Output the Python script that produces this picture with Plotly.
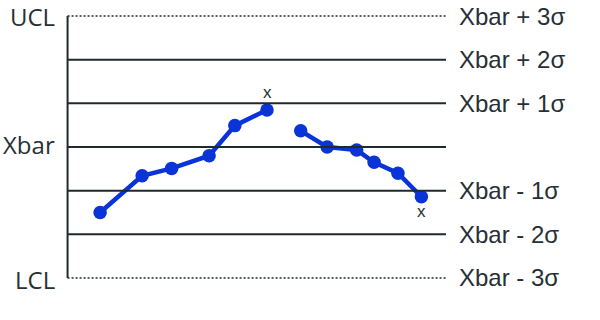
import plotly.graph_objects as go

# Sample positions (arbitrary time units) and values in sigma units
sample_x = [8.6, 19.7, 27.5, 37.4, 44.2, 52.7, None, 61.6, 68.6, 76.4, 81.0, 87.3, 93.5]
sample_y = [-1.50, -0.66, -0.49, -0.20, 0.49, 0.85, None, 0.37, 0.0, -0.07, -0.35, -0.60, -1.14]
out_flags = ["", "", "", "", "", "above", "", "", "", "", "", "", "below"]

# Control-limit levels (sigma units)
levels = [3, 2, 1, 0, -1, -2, -3]
left_labels = {3: "UCL", 0: "Xbar", -3: "LCL"}
right_labels = {3: "Xbar + 3σ", 2: "Xbar + 2σ", 1: "Xbar + 1σ",
                -1: "Xbar - 1σ", -2: "Xbar - 2σ", -3: "Xbar - 3σ"}

LINE_C = "#1f2a2c"
TEXT_C = "#263035"
BLUE = "#0a33d8"

fig = go.Figure()

shapes = []
for lv in levels:
    dotted = abs(lv) == 3
    shapes.append(dict(type="line", xref="x", yref="y", x0=0, x1=100, y0=lv, y1=lv,
                       line=dict(color=LINE_C, width=1.5 if dotted else 2,
                                 dash="2px,2px" if dotted else "solid")))
shapes.append(dict(type="line", xref="x", yref="y", x0=0, x1=0, y0=-3, y1=3,
                   line=dict(color=LINE_C, width=2)))

fig.add_trace(go.Scatter(x=sample_x, y=sample_y, mode="lines+markers",
                         line=dict(color=BLUE, width=4.5),
                         marker=dict(color=BLUE, size=13.5),
                         connectgaps=False, hoverinfo="skip"))

annotations = []
for lv, t in left_labels.items():
    ys = {3: 0, 0: 3, -3: -2}[lv]
    annotations.append(dict(x=0, y=lv, xref="x", yref="y", text=t, showarrow=False,
                            xanchor="right", yanchor="middle", xshift=-12, yshift=ys,
                            borderpad=0,
                            font=dict(family="Open Sans", size=24, color=TEXT_C)))
for lv, t in right_labels.items():
    annotations.append(dict(x=100, y=lv, xref="x", yref="y", text=t, showarrow=False,
                            xanchor="left", yanchor="middle", xshift=11, yshift=0,
                            font=dict(family="Liberation Sans", size=24, color=TEXT_C)))
for xv, yv, f in zip(sample_x, sample_y, out_flags):
    if f:
        annotations.append(dict(x=xv, y=yv, xref="x", yref="y", text="x", showarrow=False,
                                xanchor="center", yanchor="middle",
                                yshift=17 if f == "above" else -15,
                                font=dict(family="Liberation Sans", size=17, color=TEXT_C)))

fig.update_layout(
    width=600, height=320,
    margin=dict(l=60, r=154, t=3, b=29),
    paper_bgcolor="white", plot_bgcolor="white",
    showlegend=False,
    shapes=shapes, annotations=annotations,
    xaxis=dict(range=[-2, 100], visible=False, fixedrange=True),
    yaxis=dict(range=[-3.3, 3.3], visible=False, fixedrange=True),
)

fig.write_html("out.html", config={"displayModeBar": False})
